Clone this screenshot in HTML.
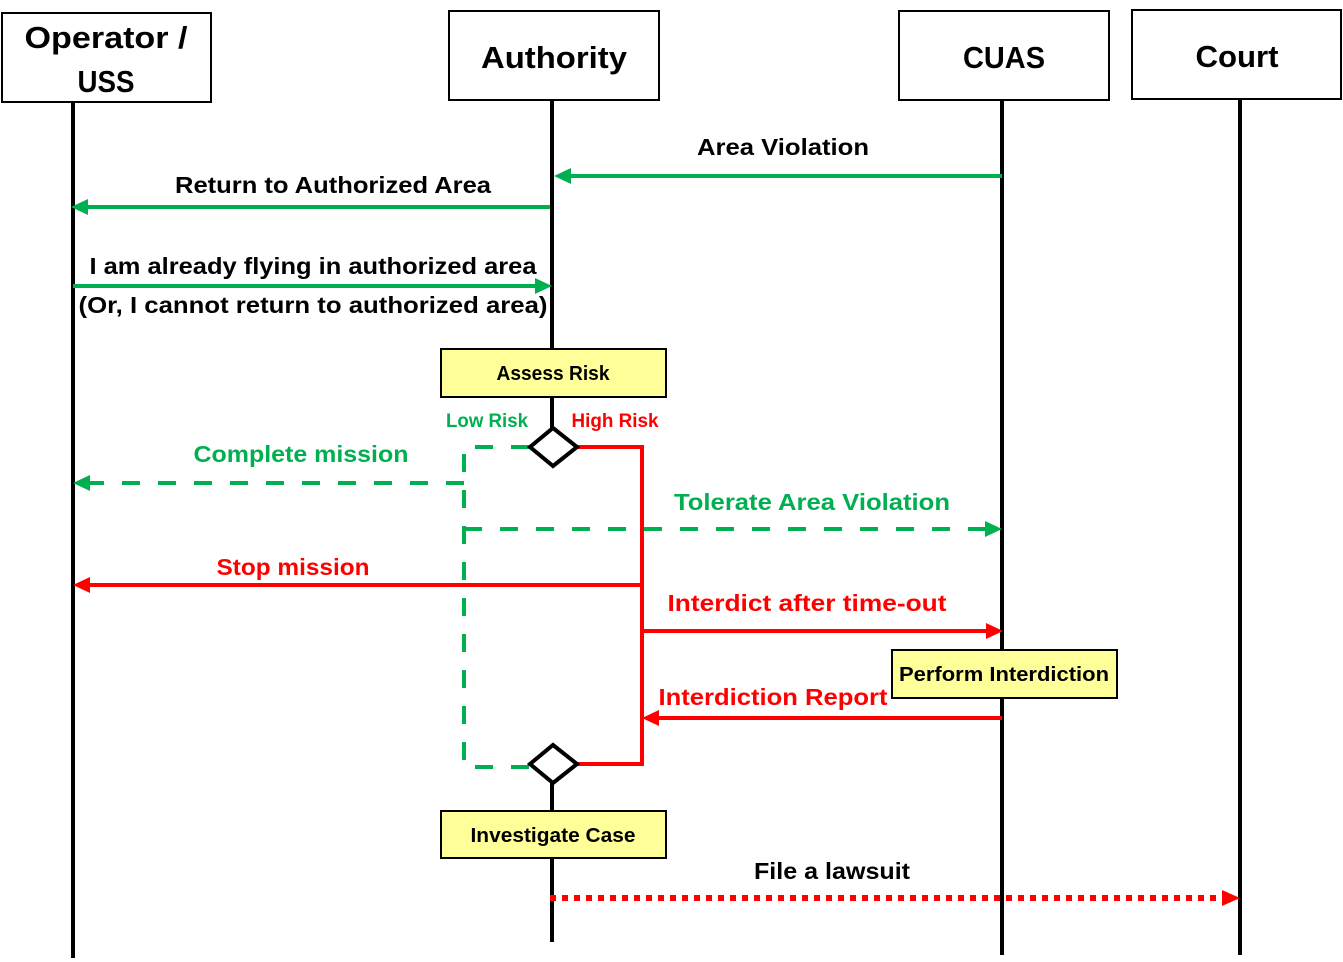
<!DOCTYPE html>
<html><head><meta charset="utf-8"><style>
html,body{margin:0;padding:0;background:#fff;}
svg{display:block;}
text{font-family:"Liberation Sans",sans-serif;font-weight:bold;}
</style></head><body>
<svg width="1343" height="962" viewBox="0 0 1343 962" xmlns="http://www.w3.org/2000/svg">
<!-- lifelines -->
<g stroke="#000" stroke-width="4">
<line x1="73" y1="102" x2="73" y2="958"/>
<line x1="552" y1="100" x2="552" y2="430"/>
<line x1="552" y1="781" x2="552" y2="942"/>
<line x1="1002" y1="100" x2="1002" y2="955"/>
<line x1="1240" y1="99" x2="1240" y2="955"/>
</g>
<!-- header boxes -->
<g fill="#fff" stroke="#000" stroke-width="2">
<rect x="2" y="13" width="209" height="89"/>
<rect x="449" y="11" width="210" height="89"/>
<rect x="899" y="11" width="210" height="89"/>
<rect x="1132" y="10" width="209" height="89"/>
</g>
<g font-size="31" text-anchor="middle" fill="#000">
<text x="106" y="48" textLength="163" lengthAdjust="spacingAndGlyphs">Operator /</text>
<text x="106" y="92" textLength="57" lengthAdjust="spacingAndGlyphs">USS</text>
<text x="554" y="68" textLength="146" lengthAdjust="spacingAndGlyphs">Authority</text>
<text x="1004" y="68" textLength="82" lengthAdjust="spacingAndGlyphs">CUAS</text>
<text x="1237" y="67" textLength="83" lengthAdjust="spacingAndGlyphs">Court</text>
</g>
<!-- green solid arrows -->
<g stroke="#00b050" stroke-width="4" fill="none">
<line x1="1002" y1="176" x2="570" y2="176"/>
<line x1="550" y1="207" x2="88" y2="207"/>
<line x1="73" y1="286" x2="536" y2="286"/>
</g>
<g fill="#00b050">
<polygon points="554,176 571,168 571,184"/>
<polygon points="71,207 88,199 88,215"/>
<polygon points="552,286 535,278 535,294"/>
</g>
<g font-size="23" text-anchor="middle" fill="#000">
<text x="783" y="155" textLength="172" lengthAdjust="spacingAndGlyphs">Area Violation</text>
<text x="333" y="193" textLength="316" lengthAdjust="spacingAndGlyphs">Return to Authorized Area</text>
<text x="313" y="274" textLength="447" lengthAdjust="spacingAndGlyphs">I am already flying in authorized area</text>
<text x="313" y="313" textLength="469" lengthAdjust="spacingAndGlyphs">(Or, I cannot return to authorized area)</text>
</g>
<!-- yellow boxes -->
<g fill="#ffff99" stroke="#000" stroke-width="2">
<rect x="441" y="349" width="225" height="48"/>
<rect x="892" y="650" width="225" height="48"/>
<rect x="441" y="811" width="225" height="47"/>
</g>
<g font-size="20" text-anchor="middle" fill="#000">
<text x="553" y="380" textLength="113" lengthAdjust="spacingAndGlyphs">Assess Risk</text>
<text x="1004" y="681" textLength="210" lengthAdjust="spacingAndGlyphs">Perform Interdiction</text>
<text x="553" y="842" textLength="165" lengthAdjust="spacingAndGlyphs">Investigate Case</text>
</g>
<text x="487" y="427" font-size="19" text-anchor="middle" fill="#00b050" textLength="82" lengthAdjust="spacingAndGlyphs">Low Risk</text>
<text x="615" y="427" font-size="19" text-anchor="middle" fill="#ff0000" textLength="87" lengthAdjust="spacingAndGlyphs">High Risk</text>
<!-- green dashed -->
<g stroke="#00b050" stroke-width="4" fill="none" stroke-dasharray="18,18">
<polyline points="529,447 464,447 464,767 529,767"/>
<line x1="464" y1="483" x2="90" y2="483"/>
<line x1="464" y1="529" x2="986" y2="529"/>
</g>
<g fill="#00b050">
<polygon points="73,483 90,475 90,491"/>
<polygon points="1002,529 985,521 985,537"/>
</g>
<!-- red solid -->
<g stroke="#ff0000" stroke-width="4" fill="none">
<polyline points="577,447 642,447 642,764 577,764"/>
<line x1="642" y1="585" x2="90" y2="585"/>
<line x1="642" y1="631" x2="986" y2="631"/>
<line x1="1002" y1="718" x2="658" y2="718"/>
</g>
<g fill="#ff0000">
<polygon points="73,585 90,577 90,593"/>
<polygon points="1003,631 986,623 986,639"/>
<polygon points="642,718 659,710 659,726"/>
</g>
<!-- diamonds -->
<g fill="#fff" stroke="#000" stroke-width="4">
<polygon points="553,428 577,447 553,466 530,447"/>
<polygon points="553,745 577,764 553,783 530,764"/>
</g>
<g font-size="23" text-anchor="middle">
<text x="301" y="462" fill="#00b050" textLength="215" lengthAdjust="spacingAndGlyphs">Complete mission</text>
<text x="812" y="510" fill="#00b050" textLength="276" lengthAdjust="spacingAndGlyphs">Tolerate Area Violation</text>
<text x="293" y="575" fill="#ff0000" textLength="153" lengthAdjust="spacingAndGlyphs">Stop mission</text>
<text x="807" y="611" fill="#ff0000" textLength="279" lengthAdjust="spacingAndGlyphs">Interdict after time-out</text>
<text x="773" y="705" fill="#ff0000" textLength="229" lengthAdjust="spacingAndGlyphs">Interdiction Report</text>
<text x="832" y="879" fill="#000" textLength="156" lengthAdjust="spacingAndGlyphs">File a lawsuit</text>
</g>
<!-- dotted -->
<line x1="550" y1="898" x2="1222" y2="898" stroke="#ff0000" stroke-width="6" stroke-dasharray="6,6"/>
<polygon points="1240,898 1222,890 1222,906" fill="#ff0000"/>
</svg>
</body></html>
